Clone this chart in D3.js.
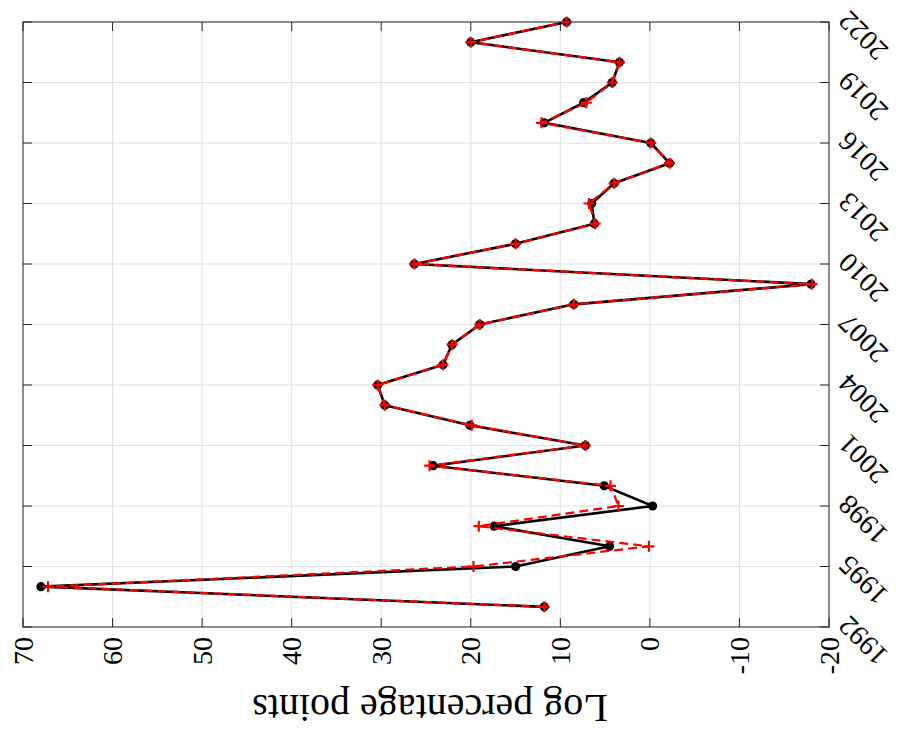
<!DOCTYPE html>
<meta charset="utf-8">
<head>
<style>
  body { margin: 0; background: #fff; }
  svg { display: block; }
  text { font-family: "Liberation Serif", "Times New Roman", serif; fill: #000; }
  .grid line { stroke: #e1e1e1; stroke-width: 1; }
  .frame { fill: none; stroke: #262626; stroke-width: 1; }
  .tick { stroke: #262626; stroke-width: 1; }
</style>
</head>
<body>
<svg id="chart" width="904" height="730"></svg>
<script src="https://d3js.org/d3.v7.min.js"></script>
<script>
// data
var years = [1993, 1994, 1995, 1996, 1997, 1998, 1999, 2000, 2001, 2002,
             2003, 2004, 2005, 2006, 2007, 2008, 2009, 2010, 2011, 2012,
             2013, 2014, 2015, 2016, 2017, 2018, 2019, 2020, 2021, 2022];
var seriesBlack = [11.8, 68.0, 15.0, 4.5, 17.4, -0.3, 5.1, 24.2, 7.2, 20.1,
                   29.6, 30.4, 23.1, 22.1, 19.0, 8.5, -18.0, 26.3, 15.0, 6.2,
                   6.5, 4.0, -2.2, -0.1, 11.8, 7.4, 4.2, 3.4, 20.0, 9.3];
var seriesRed = [11.8, 67.2, 19.7, 0.1, 19.1, 3.5, 4.4, 24.6, 7.2, 19.9,
                 29.6, 30.4, 23.1, 22.1, 19.0, 8.5, -18.1, 26.3, 15.0, 6.1,
                 6.8, 4.0, -2.2, -0.1, 12.1, 7.1, 4.2, 3.4, 20.0, 9.3];
var yearTicks = [1992, 1995, 1998, 2001, 2004, 2007, 2010, 2013, 2016, 2019, 2022];
var valueTicks = [-20, -10, 0, 10, 20, 30, 40, 50, 60, 70];
var yLabel = "Log percentage points";

var svg = d3.select("#chart");
svg.append("rect").attr("width", 904).attr("height", 730).attr("fill", "#fff");

// the figure is drawn as a normal plot, then turned a quarter turn
var W = 605, H = 806;
var g = svg.append("g").attr("transform", "translate(23,627) rotate(-90)");

var x = d3.scaleLinear().domain([1992, 2022]).range([0, W]);
var y = d3.scaleLinear().domain([-20, 70]).range([H, 0]);

// grid
var grid = g.append("g").attr("class", "grid");
grid.selectAll(".gx").data(yearTicks).enter().append("line")
    .attr("x1", d => x(d)).attr("x2", d => x(d)).attr("y1", 0).attr("y2", H);
grid.selectAll(".gy").data(valueTicks).enter().append("line")
    .attr("y1", d => y(d)).attr("y2", d => y(d)).attr("x1", 0).attr("x2", W);

// ticks on all four sides
var tl = 9;
var ticks = g.append("g");
yearTicks.forEach(function(d) {
  ticks.append("line").attr("class", "tick").attr("x1", x(d)).attr("x2", x(d)).attr("y1", H).attr("y2", H - tl);
  ticks.append("line").attr("class", "tick").attr("x1", x(d)).attr("x2", x(d)).attr("y1", 0).attr("y2", tl);
});
valueTicks.forEach(function(d) {
  ticks.append("line").attr("class", "tick").attr("y1", y(d)).attr("y2", y(d)).attr("x1", 0).attr("x2", tl);
  ticks.append("line").attr("class", "tick").attr("y1", y(d)).attr("y2", y(d)).attr("x1", W).attr("x2", W - tl);
});
g.append("rect").attr("class", "frame").attr("x", 0).attr("y", 0).attr("width", W).attr("height", H);

// tick labels
g.selectAll(".xl").data(yearTicks).enter().append("text")
    .attr("transform", d => "translate(" + (x(d) + 6) + "," + (H + 14) + ") rotate(-45)")
    .attr("text-anchor", "end")
    .attr("dy", "0.35em")
    .style("font-size", "28px")
    .text(d => d);
g.selectAll(".yl").data(valueTicks).enter().append("text")
    .attr("x", -10).attr("y", d => y(d))
    .attr("text-anchor", "end")
    .attr("dy", "0.34em")
    .style("font-size", "28px")
    .text(d => d);

g.append("text")
    .attr("transform", "translate(" + (-68) + "," + (H / 2 + 4) + ") rotate(-90)")
    .attr("text-anchor", "middle")
    .style("font-size", "40px")
    .text(yLabel);

// series
var line = d3.line().x(d => x(d[0])).y(d => y(d[1]));
var black = years.map((yr, i) => [yr, seriesBlack[i]]);
var red = years.map((yr, i) => [yr, seriesRed[i]]);

g.append("path").datum(black).attr("d", line)
    .attr("fill", "none").attr("stroke", "#000").attr("stroke-width", 2.6).attr("stroke-linejoin", "round");
g.selectAll(".dot").data(black).enter().append("circle")
    .attr("cx", d => x(d[0])).attr("cy", d => y(d[1])).attr("r", 4.6).attr("fill", "#000");

g.append("path").datum(red).attr("d", line)
    .attr("fill", "none").attr("stroke", "#ff0000").attr("stroke-width", 2.2)
    .attr("stroke-dasharray", "9,5");
var p = 5.5;
g.selectAll(".plus").data(red).enter().append("path")
    .attr("d", d => "M" + (x(d[0]) - p) + "," + y(d[1]) + "h" + 2 * p + "M" + x(d[0]) + "," + (y(d[1]) - p) + "v" + 2 * p)
    .attr("stroke", "#ff0000").attr("stroke-width", 2.2).attr("fill", "none");
</script>
</body>
</html>
